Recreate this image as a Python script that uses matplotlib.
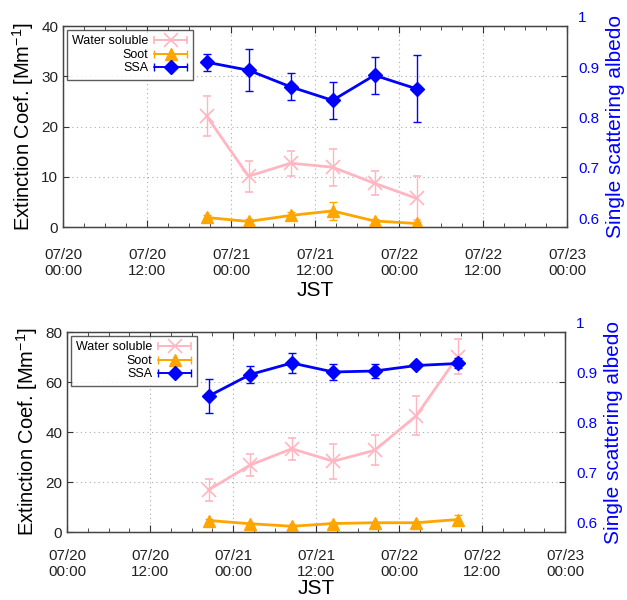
import matplotlib
matplotlib.use("Agg")
import matplotlib.pyplot as plt
import matplotlib.dates as mdates
from matplotlib.transforms import ScaledTranslation
from matplotlib.container import ErrorbarContainer
from matplotlib.legend_handler import HandlerErrorbar
import numpy as np
import pandas as pd

plt.rcParams['font.family'] = ['Liberation Sans', 'DejaVu Sans']

# ---------------- data ----------------
times_top = ["2023-07-20 20:30", "2023-07-21 02:30", "2023-07-21 08:30",
             "2023-07-21 14:30", "2023-07-21 20:30", "2023-07-22 02:30"]
ws_top = [22.1, 10.1, 12.7, 11.9, 8.7, 5.7]
ws_top_err = [4.0, 3.1, 2.5, 3.7, 2.4, 4.4]
soot_top = [1.9, 1.1, 2.3, 3.2, 1.2, 0.7]
soot_top_err = [0.5, 0.4, 0.6, 1.8, 0.4, 0.3]
ssa_top = [0.928, 0.912, 0.879, 0.852, 0.902, 0.875]
ssa_top_err = [0.017, 0.042, 0.027, 0.037, 0.037, 0.067]

times_bot = ["2023-07-20 20:30", "2023-07-21 02:30", "2023-07-21 08:30",
             "2023-07-21 14:30", "2023-07-21 20:30", "2023-07-22 02:30",
             "2023-07-22 08:30"]
ws_bot = [16.9, 26.8, 33.3, 28.3, 32.7, 46.5, 70.2]
ws_bot_err = [4.4, 4.3, 4.4, 7.1, 6.0, 7.8, 7.1]
soot_bot = [4.6, 3.3, 2.3, 3.4, 3.7, 3.7, 5.0]
soot_bot_err = [0.6, 0.4, 0.4, 0.5, 0.5, 0.5, 1.8]
ssa_bot = [0.872, 0.915, 0.938, 0.920, 0.922, 0.933, 0.937]
ssa_bot_err = [0.034, 0.016, 0.020, 0.016, 0.013, 0.005, 0.010]

xlim = ["2023-07-20 00:00", "2023-07-23 00:00"]
labels = ["Water soluble", "Soot", "SSA"]

PINK = "#ffb6c1"
ORANGE = "#ffa500"
BLUE = "#0000ff"

styles = [dict(color=PINK, marker='x', ms=10, mew=1.2),
          dict(color=ORANGE, marker='^', ms=8),
          dict(color=BLUE, marker='D', ms=7)]

fig = plt.figure(figsize=(6.27, 6.0), dpi=100)


def panel(rect, times, ws, wse, soot, soote, ssa, ssae, ymax, xpad, jpad):
    ax = fig.add_axes(rect)
    t = pd.to_datetime(times)
    ax.errorbar(t, ws, yerr=wse, lw=2, capsize=3, elinewidth=1, zorder=3,
                **styles[0])
    ax.errorbar(t, soot, yerr=soote, lw=2, capsize=3, elinewidth=1, zorder=3,
                **styles[1])
    ax.set_xlim(pd.to_datetime(xlim[0]), pd.to_datetime(xlim[1]))
    ax.set_ylim(0, ymax)
    ax.set_yticks([ymax * k / 4 for k in range(5)])
    ax.yaxis.set_major_formatter(plt.FuncFormatter(lambda v, p: f"{v:g}"))
    ax.xaxis.set_major_locator(mdates.HourLocator(byhour=[0, 12]))
    ax.xaxis.set_minor_locator(mdates.HourLocator(byhour=range(0, 24, 3)))
    ax.xaxis.set_major_formatter(mdates.DateFormatter("%m/%d\n%H:%M"))
    ax.grid(True, which='major', linestyle=(0, (1, 3)), color='#aaaaaa', lw=0.8)
    ax.tick_params(axis='both', which='both', direction='in', top=True,
                   labelsize=11, color='#333333', labelcolor='#222222')
    ax.tick_params(axis='y', right=False, length=4)
    ax.tick_params(axis='x', which='major', length=5, pad=xpad)
    ax.tick_params(axis='x', which='minor', length=3)
    for s in ax.spines.values():
        s.set_color('#444444')
        s.set_linewidth(1.0)
    ax.set_ylabel("Extinction Coef. [Mm$^{\\mathregular{-1}}$]", fontsize=14.5,
                  labelpad=4)
    ax.set_xlabel("JST", fontsize=15, labelpad=jpad)

    ax2 = ax.twinx()
    ax2.errorbar(t, ssa, yerr=ssae, lw=2, capsize=3, elinewidth=1, zorder=3,
                 **styles[2])
    ax2.set_xlim(pd.to_datetime(xlim[0]), pd.to_datetime(xlim[1]))
    ax2.set_ylim(0.6, 1.0)
    ax2.set_yticks([0.6, 0.7, 0.8, 0.9, 1.0])
    ax2.yaxis.set_major_formatter(plt.FuncFormatter(lambda v, p: f"{v:g}"))
    ax2.tick_params(axis='y', direction='in', colors=BLUE, labelsize=11,
                    length=4, pad=8)
    ax2.tick_params(axis='y', color='#333333')
    for lab in ax2.get_yticklabels():
        lab.set_transform(lab.get_transform() +
                          ScaledTranslation(0, 9 / 100, fig.dpi_scale_trans))
    ax2.set_ylabel("Single scattering albedo", fontsize=15, color=BLUE,
                   labelpad=5)
    for s in ax2.spines.values():
        s.set_color('#444444')

    # legend proxies: horizontal bars with caps (gnuplot style)
    handles = []
    for st in styles:
        h = ax2.errorbar([np.nan], [np.nan], xerr=[[1.0]], lw=1.2, capsize=3,
                         elinewidth=1.2, **st)
        handles.append(h)
    leg = ax2.legend(handles, labels, loc='upper left', markerfirst=False,
                     fontsize=9, frameon=True, fancybox=False,
                     borderaxespad=0.3, handlelength=2.7, labelspacing=0.12,
                     borderpad=0.45, handletextpad=0.4,
                     handler_map={ErrorbarContainer: HandlerErrorbar(xerr_size=1.35)})
    leg.get_frame().set_edgecolor('#333333')
    leg.get_frame().set_linewidth(1.0)
    for txt in leg.get_texts():
        txt.set_ha('right')
    return ax, ax2


panel([63 / 627, 1 - 227 / 600, 504 / 627, 201 / 600], times_top, ws_top,
      ws_top_err, soot_top, soot_top_err, ssa_top, ssa_top_err, 40, 15, 2)
panel([67 / 627, 1 - 532 / 600, 498 / 627, 200 / 600], times_bot, ws_bot,
      ws_bot_err, soot_bot, soot_bot_err, ssa_bot, ssa_bot_err, 80, 12, 0)

fig.savefig("out.png", dpi=100)
